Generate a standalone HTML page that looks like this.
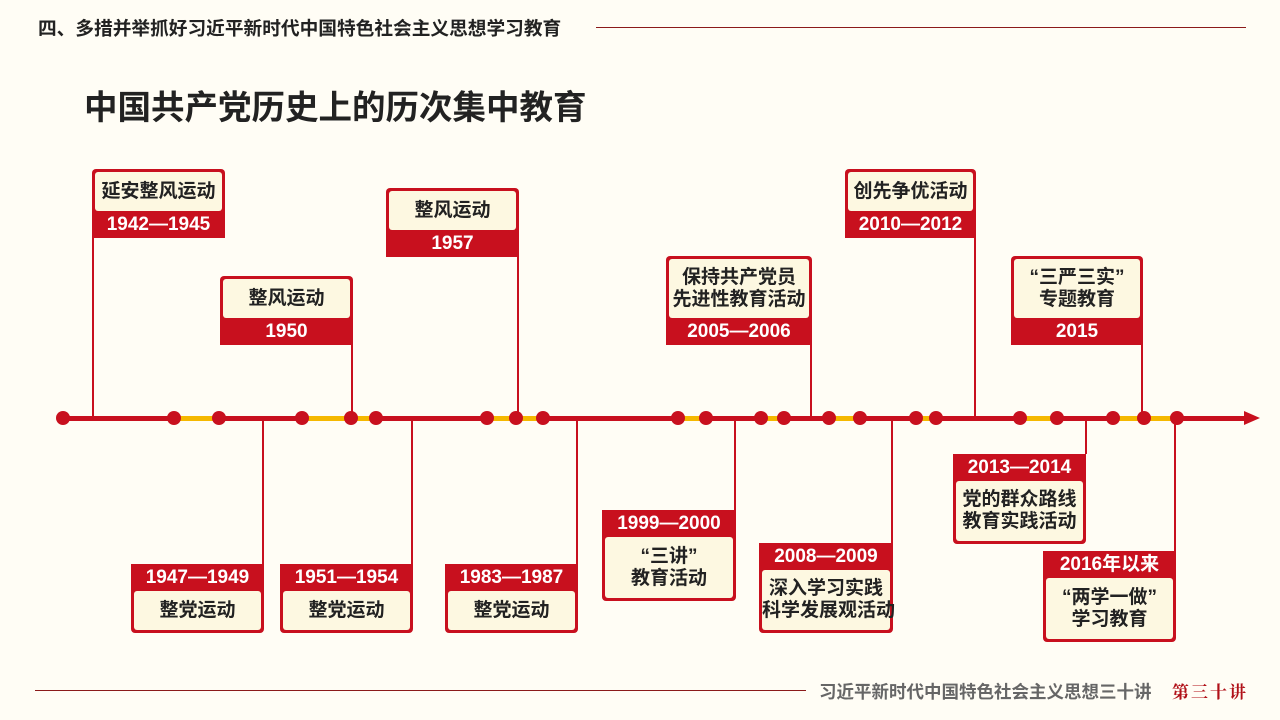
<!DOCTYPE html>
<html><head><meta charset="utf-8"><style>
*{margin:0;padding:0;box-sizing:border-box}
body{width:1280px;height:720px;background:#fffdf5;position:relative;overflow:hidden;font-family:"Liberation Sans","Noto Sans CJK SC",sans-serif}
.a{position:absolute}
.box{position:absolute;background:#c8101e;border-radius:4px;padding:3px;display:flex;flex-direction:column}
.top{border-bottom-left-radius:0;border-bottom-right-radius:0;padding-bottom:0}
.bot{border-top-left-radius:0;border-top-right-radius:0;padding-top:0}
.cr{background:#fdf8e1;border-radius:3px;color:#222;font-weight:bold;font-size:19px;line-height:22px;text-align:center;display:flex;flex-direction:column;justify-content:center;flex:1;white-space:nowrap}
.yr{color:#fff;font-weight:bold;font-size:19px;height:27px;line-height:27px;text-align:center;white-space:nowrap}
.st{position:absolute;width:1.5px;background:#c8101e}
.dot{position:absolute;width:14px;height:14px;border-radius:50%;background:#c8101e;top:411px}
.y{position:absolute;height:5px;background:#f5b800;top:416px}
</style></head><body>
<div class="a" style="left:38px;top:14px;font-size:18.7px;font-weight:bold;color:#222;white-space:nowrap">四、多措并举抓好习近平新时代中国特色社会主义思想学习教育</div>
<div class="a" style="left:596px;top:27px;width:650px;height:1px;background:#8b1a1a"></div>
<div class="a" style="left:84px;top:80px;font-size:33.5px;font-weight:bold;color:#222;white-space:nowrap">中国共产党历史上的历次集中教育</div>

<div class="a" style="left:60px;top:416px;width:1190px;height:5px;background:#c8101e"></div>
<div class="a" style="left:1244px;top:411px;width:0;height:0;border-left:16px solid #c8101e;border-top:7px solid transparent;border-bottom:7px solid transparent"></div>
<div class="y" style="left:174px;width:45px"></div>
<div class="y" style="left:302px;width:74px"></div>
<div class="y" style="left:487px;width:56px"></div>
<div class="y" style="left:678px;width:28px"></div>
<div class="y" style="left:761px;width:23px"></div>
<div class="y" style="left:829px;width:31px"></div>
<div class="y" style="left:916px;width:20px"></div>
<div class="y" style="left:1020px;width:37px"></div>
<div class="y" style="left:1113px;width:65px"></div>

<div class="dot" style="left:56px"></div><div class="dot" style="left:167px"></div><div class="dot" style="left:212px"></div>
<div class="dot" style="left:295px"></div><div class="dot" style="left:344px"></div><div class="dot" style="left:369px"></div>
<div class="dot" style="left:480px"></div><div class="dot" style="left:509px"></div><div class="dot" style="left:536px"></div>
<div class="dot" style="left:671px"></div><div class="dot" style="left:699px"></div><div class="dot" style="left:754px"></div>
<div class="dot" style="left:777px"></div><div class="dot" style="left:822px"></div><div class="dot" style="left:853px"></div>
<div class="dot" style="left:909px"></div><div class="dot" style="left:929px"></div><div class="dot" style="left:1013px"></div>
<div class="dot" style="left:1050px"></div><div class="dot" style="left:1106px"></div><div class="dot" style="left:1137px"></div>
<div class="dot" style="left:1170px"></div>

<div class="st" style="left:92px;top:237px;height:181px"></div>
<div class="st" style="left:351px;top:344px;height:74px"></div>
<div class="st" style="left:517px;top:256px;height:162px"></div>
<div class="st" style="left:810px;top:344px;height:74px"></div>
<div class="st" style="left:974px;top:237px;height:181px"></div>
<div class="st" style="left:1141px;top:344px;height:74px"></div>
<div class="st" style="left:262px;top:418px;height:146px"></div>
<div class="st" style="left:411px;top:418px;height:146px"></div>
<div class="st" style="left:576px;top:418px;height:146px"></div>
<div class="st" style="left:734px;top:418px;height:92px"></div>
<div class="st" style="left:891px;top:418px;height:125px"></div>
<div class="st" style="left:1085px;top:418px;height:36px"></div>
<div class="st" style="left:1174px;top:418px;height:133px"></div>

<div class="box top" style="left:92px;top:169px;width:133px;height:69px"><div class="cr">延安整风运动</div><div class="yr">1942—1945</div></div>
<div class="box top" style="left:220px;top:276px;width:133px;height:69px"><div class="cr">整风运动</div><div class="yr">1950</div></div>
<div class="box top" style="left:386px;top:188px;width:133px;height:69px"><div class="cr">整风运动</div><div class="yr">1957</div></div>
<div class="box top" style="left:666px;top:256px;width:146px;height:89px"><div class="cr">保持共产党员<br>先进性教育活动</div><div class="yr">2005—2006</div></div>
<div class="box top" style="left:845px;top:169px;width:131px;height:69px"><div class="cr">创先争优活动</div><div class="yr">2010—2012</div></div>
<div class="box top" style="left:1011px;top:256px;width:132px;height:89px"><div class="cr">“三严三实”<br>专题教育</div><div class="yr">2015</div></div>

<div class="box bot" style="left:131px;top:564px;width:133px;height:69px"><div class="yr">1947—1949</div><div class="cr">整党运动</div></div>
<div class="box bot" style="left:280px;top:564px;width:133px;height:69px"><div class="yr">1951—1954</div><div class="cr">整党运动</div></div>
<div class="box bot" style="left:445px;top:564px;width:133px;height:69px"><div class="yr">1983—1987</div><div class="cr">整党运动</div></div>
<div class="box bot" style="left:602px;top:510px;width:134px;height:91px"><div class="yr">1999—2000</div><div class="cr">“三讲”<br>教育活动</div></div>
<div class="box bot" style="left:759px;top:543px;width:134px;height:90px"><div class="yr">2008—2009</div><div class="cr">深入学习实践<br>科学发展观活动</div></div>
<div class="box bot" style="left:953px;top:454px;width:133px;height:90px"><div class="yr">2013—2014</div><div class="cr">党的群众路线<br>教育实践活动</div></div>
<div class="box bot" style="left:1043px;top:551px;width:133px;height:91px"><div class="yr">2016年以来</div><div class="cr">“两学一做”<br>学习教育</div></div>

<div class="a" style="left:35px;top:690px;width:771px;height:1px;background:#8b1a1a"></div>
<div class="a" style="left:819px;top:679px;font-size:17.5px;color:#666;font-weight:bold;white-space:nowrap">习近平新时代中国特色社会主义思想三十讲</div>
<div class="a" style="left:1172px;top:678px;font-size:17px;color:#b01018;font-weight:bold;font-family:'Noto Serif CJK SC',serif;letter-spacing:2px;white-space:nowrap">第三十讲</div>
</body></html>
